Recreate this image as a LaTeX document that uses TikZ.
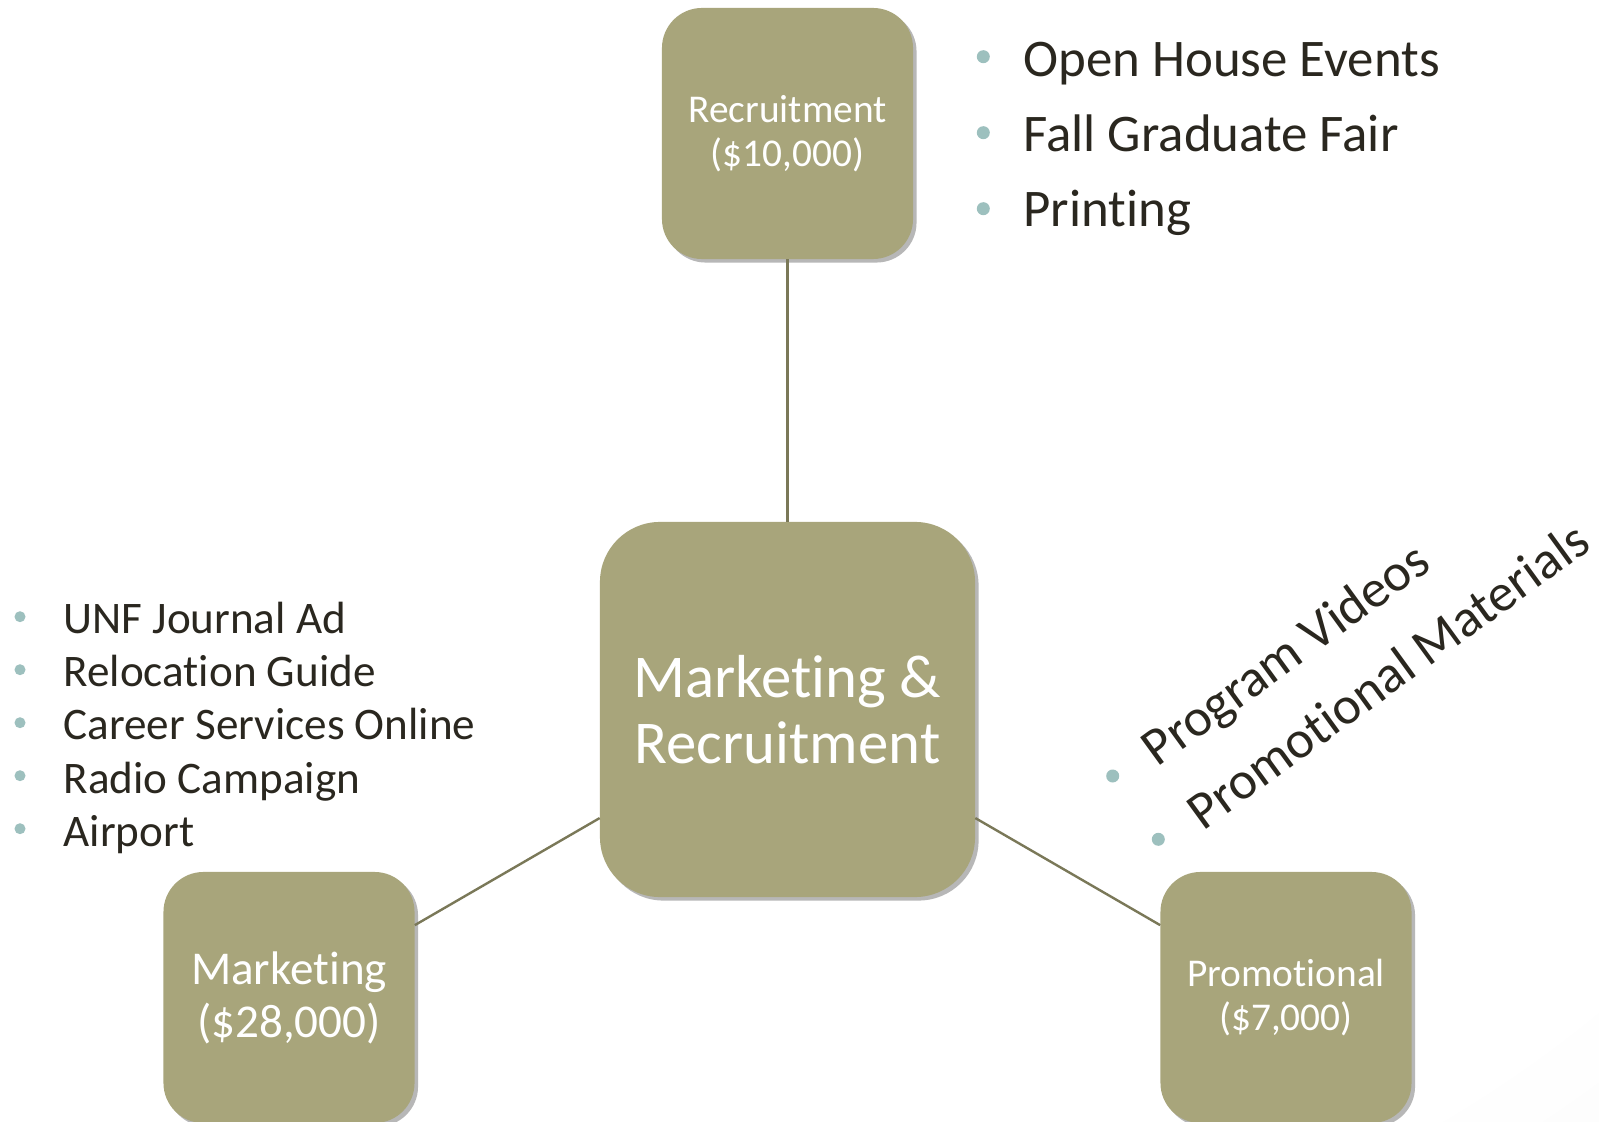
\documentclass[tikz,border=0pt]{standalone}
\usepackage{fontspec}
\setmainfont{Carlito}
\usetikzlibrary{shadows}
\definecolor{boxolive}{RGB}{168,165,123}
\definecolor{spokeolive}{RGB}{122,120,88}
\definecolor{dotteal}{RGB}{157,192,190}
\definecolor{inkdark}{RGB}{42,39,31}
\pgfdeclareradialshading{slidebg}{\pgfpoint{-12bp}{12bp}}{color(0bp)=(white); color(40bp)=(white); color(62bp)=(black!5); color(85bp)=(black!11)}
\newcommand{\nolig}{\kern0pt}
\begin{document}
\begin{tikzpicture}[
    x=0.025cm, y=0.025cm,
    box/.style={rounded corners=1cm, fill=boxolive, text=white, align=center,
      inner sep=0pt, minimum width=6.275cm, minimum height=6.275cm,
      drop shadow={shadow xshift=2.5pt, shadow yshift=-2.5pt, fill=black!70, opacity=0.4}},
    spoke/.style={draw=spokeolive, line width=1.7pt},
    item/.style={anchor=base west, text=inkdark, inner sep=0pt},
    dot/.style={fill=dotteal}
  ]
    \useasboundingbox (0,0) rectangle (1599,1121);
    \shade[shading=slidebg] (0,0) rectangle (1599,1121);
    \node[box, font=\fontsize{28}{31.3}\selectfont] (recruit) at (787.5,987.5)
      {Recruitment\\(\$10,000)};
    \node[box, rounded corners=1.5cm, minimum width=9.375cm, minimum height=9.375cm,
      font=\fontsize{43.2}{47.4}\selectfont] (hub) at (787.5,411.5)
      {Market\nolig ing \&\\Recruitment};
    \node[box, font=\fontsize{33.5}{37.7}\selectfont] (mkt) at (289,123.5)
      {Market\nolig ing\\(\$28,000)};
    \node[box, font=\fontsize{28}{31.3}\selectfont] (promo) at (1286,123.5)
      {Promot\nolig ional\\(\$7,000)};
    \draw[spoke] (recruit) -- (hub);
    \draw[spoke] (hub) -- (mkt);
    \draw[spoke] (hub) -- (promo);
    \foreach \txt [count=\i] in {Open House Events, Fall Graduate Fair, Print\nolig ing} {
      \node[item, font=\fontsize{37.6}{44}\selectfont] (recitem\i) at (1023.3,{1044.3-75*(\i-1)}) {\txt};
      \fill[dot] (983.3,{1064.3-76*(\i-1)}) circle[radius=6.5];
    }
    \foreach \txt [count=\i] in {UNF Journal Ad, Relocat\nolig ion Guide, Career Services Online,
        Radio Campaign, Airport} {
      \node[item, font=\fontsize{32.1}{38}\selectfont] (mktitem\i) at (63.3,{487.7-53.3*(\i-1)}) {\txt};
      \fill[dot] (20,{504.3-53*(\i-1)}) circle[radius=5.5];
    }
    \node[item, rotate=36, font=\fontsize{37.7}{45}\selectfont] (promoitem1) at (1157.7,352.9)
      {Program Videos};
    \node[item, rotate=36, font=\fontsize{37.7}{45}\selectfont] (promoitem2) at (1203.3,289.6)
      {Promot\nolig ional Materials};
    \fill[dot] (1112.7,345) circle[radius=6.5];
    \fill[dot] (1158.3,281.7) circle[radius=6.5];
  \end{tikzpicture}
\end{document}
